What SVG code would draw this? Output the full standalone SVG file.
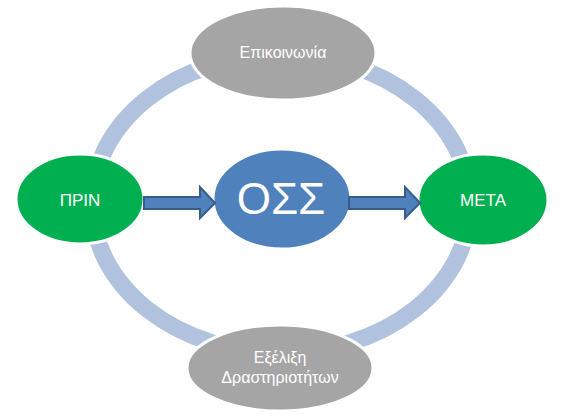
<svg xmlns="http://www.w3.org/2000/svg" width="561" height="418" viewBox="0 0 561 418">
<style>
.ring{fill:none;stroke:#B0C2DE;stroke-width:17}
.gray{fill:#A5A5A5;stroke:#FFFFFF;stroke-width:3}
.green{fill:#00B050;stroke:#FFFFFF;stroke-width:3}
.blue{fill:#4F81BD;stroke:#FFFFFF;stroke-width:3}
.arrow{fill:#4F81BD;stroke:#385D8A;stroke-width:2;stroke-linejoin:miter}
text{font-family:"Liberation Sans",Arial,sans-serif;fill:#FFFFFF;text-anchor:middle}
.small{font-size:16px}
.mid{font-size:17px}
.big{font-size:44px}
</style>
<rect width="561" height="418" fill="#FFFFFF"/>
<g id="cycle">
<ellipse class="ring" cx="281" cy="204" rx="189" ry="149"/>
</g>
<g id="node-top">
<ellipse class="gray" cx="283" cy="53" rx="93" ry="47"/>
<text class="small" x="283" y="58">Επικοινωνία</text>
</g>
<g id="node-bottom">
<ellipse class="gray" cx="280" cy="368" rx="93" ry="43"/>
<text class="small" x="280" y="363">Εξέλιξη</text>
<text class="small" x="280" y="383">Δραστηριοτήτων</text>
</g>
<g id="node-left">
<ellipse class="green" cx="80" cy="199" rx="64" ry="45"/>
<text class="mid" x="80" y="206">ΠΡΙΝ</text>
</g>
<g id="node-right">
<ellipse class="green" cx="483" cy="200" rx="65" ry="46"/>
<text class="mid" x="483" y="206">ΜΕΤΑ</text>
</g>
<g id="node-center">
<ellipse class="blue" cx="282" cy="199" rx="69" ry="50"/>
<text class="big" x="281" y="214">ΟΣΣ</text>
</g>
<g id="connectors">
<polygon class="arrow" points="144,197 200,197 200,187 215,203 200,218 200,209 144,209"/>
<polygon class="arrow" points="349,197 405,197 405,187 420,203 405,218 405,209 349,209"/>
</g>
</svg>
